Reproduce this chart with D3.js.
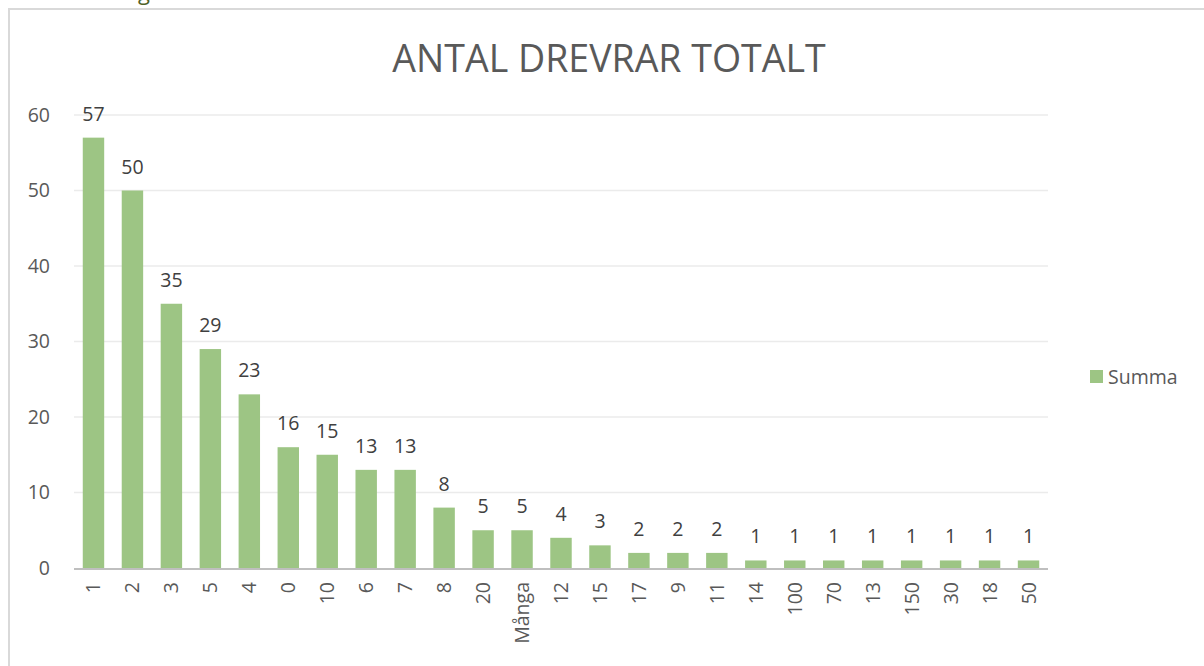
<!DOCTYPE html>
<html>
<head>
<meta charset="utf-8">
<script src="https://cdn.jsdelivr.net/npm/d3@7"></script>
<style>
  html, body { margin: 0; padding: 0; background: #fff; }
  svg { display: block; }
</style>
</head>
<body>
<svg id="chart" width="1204" height="666"></svg>
<script>
const categories = ["1","2","3","5","4","0","10","6","7","8","20","Många","12","15","17","9","11","14","100","70","13","150","30","18","50"];
const values = [57,50,35,29,23,16,15,13,13,8,5,5,4,3,2,2,2,1,1,1,1,1,1,1,1];
const yTicks = [0,10,20,30,40,50,60];
const title = "ANTAL DREVRAR TOTALT";
const seriesName = "Summa";

const font = "'Open Sans', 'Liberation Sans', sans-serif";
const svg = d3.select("#chart");

// chart frame (partially visible)
svg.append("rect").attr("x", 9).attr("y", 9).attr("width", 1300).attr("height", 800)
  .attr("fill", "#fff").attr("stroke", "#d9d9d9").attr("stroke-width", 2);

// cut-off heading fragment above the frame
svg.append("text").attr("x", 138).attr("y", 0).attr("font-family", font)
  .attr("font-size", 22).attr("fill", "#4f6228").text("g");

const x = d3.scaleBand().domain(categories).range([74, 1048]).paddingInner(0.45).paddingOuter(0.225);
const y = d3.scaleLinear().domain([0, 60]).range([568, 115]);

// gridlines
svg.append("g").selectAll("line").data(yTicks.filter(d => d > 0)).join("line")
  .attr("x1", 74).attr("x2", 1048)
  .attr("y1", d => y(d)).attr("y2", d => y(d))
  .attr("stroke", "#ebebeb").attr("stroke-width", 1.5);

// y tick labels
svg.append("g").selectAll("text").data(yTicks).join("text")
  .attr("x", 50).attr("y", d => y(d)).attr("dy", "0.35em")
  .attr("text-anchor", "end").attr("font-family", font).attr("font-size", 19.5)
  .attr("fill", "#595959").text(d => d);

// bars
svg.append("g").selectAll("rect").data(values).join("rect")
  .attr("x", (d, i) => x(categories[i]))
  .attr("y", d => y(d))
  .attr("width", x.bandwidth())
  .attr("height", d => y(0) - y(d))
  .attr("fill", "#9dc584");

// x axis line
svg.append("line").attr("x1", 74).attr("x2", 1048).attr("y1", 569).attr("y2", 569)
  .attr("stroke", "#bfbfbf").attr("stroke-width", 2);

// data labels
svg.append("g").selectAll("text").data(values).join("text")
  .attr("x", (d, i) => x(categories[i]) + x.bandwidth() / 2)
  .attr("y", d => y(d) - 17)
  .attr("text-anchor", "middle").attr("font-family", font).attr("font-size", 19.5)
  .attr("fill", "#404040").text(d => d);

// x labels rotated
svg.append("g").selectAll("text").data(categories).join("text")
  .attr("transform", d => `translate(${x(d) + x.bandwidth() / 2 + 7},582) rotate(-90)`)
  .attr("text-anchor", "end").attr("font-family", font).attr("font-size", 19.5)
  .attr("fill", "#595959").text(d => d);

// title
svg.append("text").attr("x", 609).attr("y", 72).attr("text-anchor", "middle")
  .attr("font-family", font).attr("font-size", 37.5).attr("font-weight", 400)
  .attr("fill", "#595959").text(title);

// legend
svg.append("rect").attr("x", 1090).attr("y", 370).attr("width", 13).attr("height", 13).attr("fill", "#9dc584");
svg.append("text").attr("x", 1108).attr("y", 377).attr("dy", "0.35em")
  .attr("font-family", font).attr("font-size", 19.5).attr("fill", "#595959").text(seriesName);
</script>
</body>
</html>
